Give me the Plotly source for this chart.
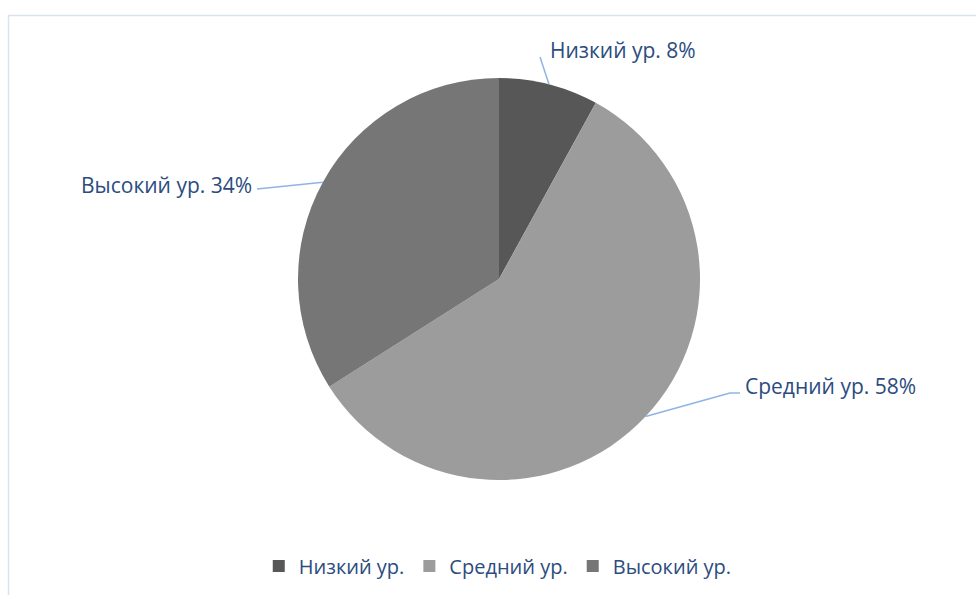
import math
import plotly.graph_objects as go

# ---- data ----
categories = ["Низкий ур.", "Средний ур.", "Высокий ур."]
values = [8, 58, 34]
label_texts = ["Низкий ур. 8%", "Средний ур. 58%", "Высокий ур. 34%"]
colors = ["#575757", "#9c9c9c", "#767676"]

W, H = 976, 595
CX, CY, R = 499, 279, 201  # pie center / radius in px

def px(x):
    return x / W

def py(y):
    return 1 - y / H

FONT = "Open Sans"
FS = 21
TXT = "#2b4c7e"
LINE = "#8fb4e3"

fig = go.Figure()
fig.add_trace(go.Pie(
    labels=categories,
    values=values,
    marker=dict(colors=colors, line=dict(width=0)),
    sort=False,
    direction="clockwise",
    rotation=0,
    textinfo="none",
    hoverinfo="label+percent",
    domain=dict(x=[px(CX - R), px(CX + R)], y=[py(CY + R), py(CY - R)]),
))

# label placement (layout): text anchor point, x-anchor, elbow point
label_layout = [
    dict(tx=548, ty=50, xanchor="left", elbow=(540, 57)),
    dict(tx=743, ty=386, xanchor="left", elbow=(730, 393), end=(740, 393)),
    dict(tx=254, ty=185, xanchor="right", elbow=(257, 189)),
]

total = sum(values)
cum = 0
shapes = []
annotations = []
for v, txt, lay in zip(values, label_texts, label_layout):
    mid = (cum + v / 2) / total * 2 * math.pi
    cum += v
    ex = CX + R * math.sin(mid)
    ey = CY - R * math.cos(mid)
    bx, by = lay["elbow"]
    shapes.append(dict(type="line", xref="paper", yref="paper",
                       x0=px(ex), y0=py(ey), x1=px(bx), y1=py(by),
                       line=dict(color=LINE, width=1.5)))
    if "end" in lay:
        shapes.append(dict(type="line", xref="paper", yref="paper",
                           x0=px(bx), y0=py(by), x1=px(lay["end"][0]), y1=py(lay["end"][1]),
                           line=dict(color=LINE, width=1.5)))
    annotations.append(dict(text=txt, xref="paper", yref="paper",
                            x=px(lay["tx"]), y=py(lay["ty"]),
                            xanchor=lay["xanchor"], yanchor="middle",
                            showarrow=False,
                            font=dict(family=FONT, size=FS, color=TXT)))

# chart-area border (only top and left visible)
shapes.append(dict(type="rect", xref="paper", yref="paper",
                   x0=px(8.5), y0=-0.2, x1=1.2, y1=py(15.5),
                   line=dict(color="#d9e2f3", width=1.5), layer="below"))

fig.update_layout(
    width=W, height=H,
    margin=dict(l=0, r=0, t=0, b=0),
    paper_bgcolor="white",
    plot_bgcolor="white",
    shapes=shapes,
    annotations=annotations,
    showlegend=True,
    legend=dict(orientation="h", x=0.51, xanchor="center", y=py(566), yanchor="middle",
                font=dict(family=FONT, size=20, color=TXT),
                itemclick=False, traceorder="normal"),
)

fig.write_html("out.html", config={"displayModeBar": False},
               post_script="document.body.style.margin='0';")
